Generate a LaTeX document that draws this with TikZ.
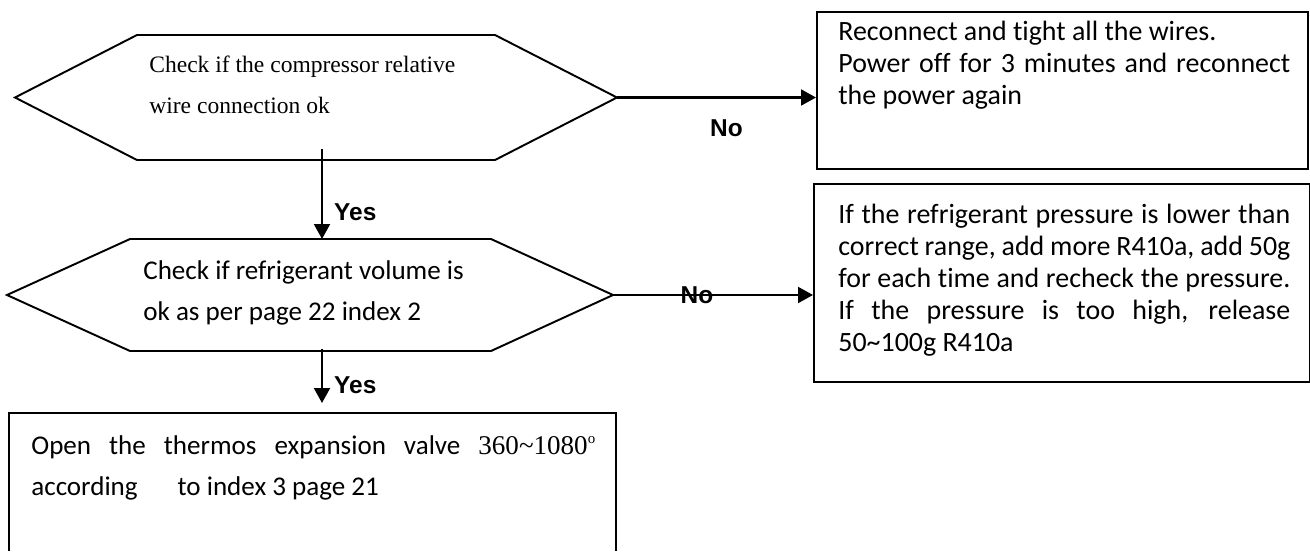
\documentclass[tikz,border=0pt]{standalone}
\usepackage{fontspec}
\setmainfont{Carlito}[Ligatures=NoCommon]
\newfontfamily\timesfont{Liberation Serif}
\newfontfamily\arialfont{Liberation Sans}
\usepackage{tikz}
\usetikzlibrary{arrows.meta, positioning}
\tikzset{>={Triangle[length=8.5pt, width=9pt]}}

\newcommand{\boxfont}{\fontsize{15.9pt}{18.2pt}\selectfont\hyphenpenalty=10000 \tolerance=10000 }
\newcommand{\widefont}{\fontsize{15.4pt}{23.3pt}\selectfont\hyphenpenalty=10000 \tolerance=10000 }

\begin{document}
\begin{tikzpicture}[x=0.02cm, y=-0.02cm,
  hexline/.style={line width=1.1pt},
  box/.style={draw, line width=1pt, anchor=north west, inner sep=0pt},
  flow/.style={->, line width=1.4pt},
  bodytext/.style={anchor=north west, inner sep=0pt, text width=9.04cm, align=justify, font=\boxfont},
  answer/.style={font=\arialfont\bfseries\fontsize{13.9pt}{16pt}\selectfont, inner sep=0pt}]

\useasboundingbox (0,0) rectangle (1310,551);

% first check: wiring
\draw[hexline] (15,97.5) -- (137,35) -- (495,35) -- (617,97.5) -- (495,160) -- (137,160) -- cycle;
\coordinate (wireR) at (617,97.5);
\coordinate (wireB) at (322,149);
\node[anchor=north west, inner sep=0pt, align=left, font=\timesfont\fontsize{13.4pt}{23.3pt}\selectfont] (wire) at (149,56)
  {Check if the compressor relative\\wire connection ok};

% second check: refrigerant volume
\draw[hexline] (7,295) -- (130,239) -- (491,239) -- (613,295) -- (491,351) -- (130,351) -- cycle;
\coordinate (gasT) at (322,239);
\coordinate (gasR) at (613,295);
\coordinate (gasB) at (322,349);
\node[anchor=north west, inner sep=0pt, align=left, font=\widefont] (gas) at (143,260)
  {Check if refrigerant volume is\\ok as per page 22 index 2};

% action boxes
\node[box, minimum width=9.82cm, minimum height=3.14cm] (rewire) at (816,11) {};
\node[bodytext] (rewireText) at (838,21)
  {Reconnect and tight all the wires.\\Power off for 3 minutes and reconnect\linebreak the power again};

\node[box, minimum width=9.92cm, minimum height=3.96cm] (charge) at (813,183) {};
\node[bodytext] (chargeText) at (838,204)
  {If the refrigerant pressure is lower than\linebreak correct range, add more R410a, add 50g\linebreak
   for each time and recheck the pressure.\linebreak If the pressure is too high, release\linebreak
   50\textasciitilde100g R410a};

% last step (box runs off the page)
\draw[line width=1pt] (9,551) -- (9,413) -- (616,413) -- (616,551);
\coordinate (valveT) at (322,413);
\node[bodytext, text width=11.28cm, font=\widefont] (valve) at (31,435)
  {Open the thermos expansion valve {\timesfont 360\textasciitilde1080\raisebox{0.85ex}{\fontsize{8.5pt}{9pt}\selectfont o}}\linebreak
   according\hspace{0.8cm}to index 3 page 21};

% connectors
\draw[flow] (wireR) -- node[answer, pos=0.55, yshift=-0.61cm] (no1) {No} (wireR -| rewire.west);
\draw[flow] (wireB) -- node[answer, pos=0.7, anchor=west, xshift=0.22cm] (yes1) {Yes} (gasT);
\draw[flow] (gasR) -- node[answer, pos=0.42] (no2) {No} (gasR -| charge.west);
\draw[flow, shorten >=0.2cm] (gasB) -- node[answer, pos=0.56, anchor=west, xshift=0.22cm] (yes2) {Yes} (valveT);

\end{tikzpicture}
\end{document}
